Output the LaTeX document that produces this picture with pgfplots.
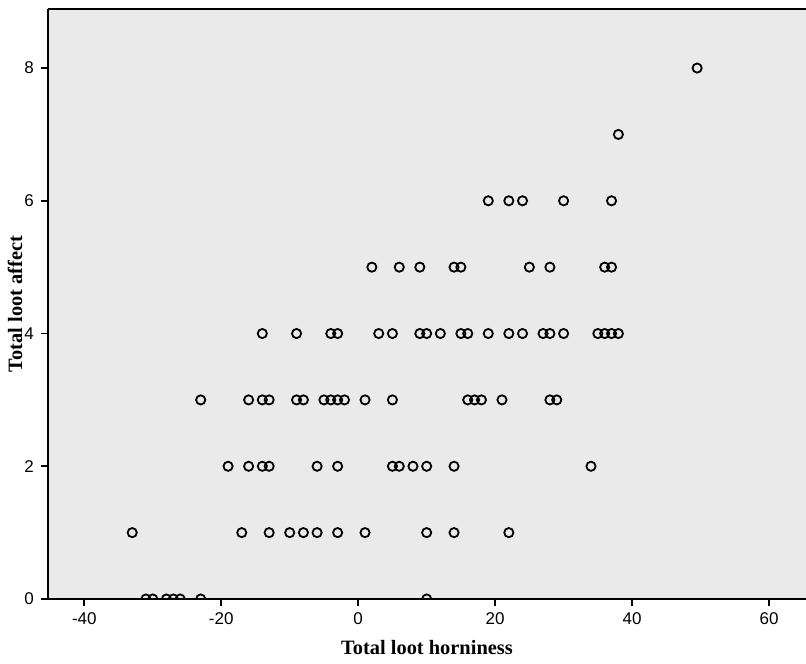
\documentclass[border=0pt]{standalone}
\usepackage{fontspec}
\setmainfont{Liberation Serif}
\newfontfamily\ticksans{Liberation Sans}
\usepackage{pgfplots}
\pgfplotsset{compat=1.18}
\definecolor{plotbg}{RGB}{234,234,234}

\begin{document}
\begin{tikzpicture}
\begin{axis}[
  at={(0,0)}, anchor=south west,
  scale only axis, width=379pt, height=295pt,
  xmin=-45.3, xmax=65.4, ymin=0, ymax=8.89,
  axis x line*=bottom, axis y line*=left,
  axis line style={-, line width=1pt},
  axis background/.style={fill=plotbg},
  xtick={-40,-20,...,60}, ytick={0,2,...,8},
  tick align=outside, major tick length=3.5pt,
  tick style={line width=0.9pt, black},
  tick label style={font=\ticksans\fontsize{8.5}{10}\selectfont},
  /pgf/number format/assume math mode=true,
  xlabel={Total loot horniness}, ylabel={Total loot affect},
  every axis x label/.style={at={(axis description cs:0.5,-0.083)}, anchor=center},
  every axis y label/.style={at={(axis description cs:-0.0435,0.5)}, rotate=90, anchor=center},
  label style={font=\bfseries\fontsize{10.2}{12}\selectfont},
  clip marker paths=true,
]
% one row per respondent: horniness score, affect score
\addplot[only marks, mark=o, mark size=2.3pt, mark options={line width=0.9pt, black}] table {
x y
-31 0
-30 0
-28 0
-27 0
-26 0
-23 0
10 0
-33 1
-17 1
-13 1
-10 1
-8 1
-6 1
-3 1
1 1
10 1
14 1
22 1
-19 2
-16 2
-14 2
-13 2
-6 2
-3 2
5 2
6 2
8 2
10 2
14 2
34 2
-23 3
-16 3
-14 3
-13 3
-9 3
-8 3
-5 3
-4 3
-3 3
-2 3
1 3
5 3
16 3
17 3
18 3
21 3
28 3
29 3
-14 4
-9 4
-4 4
-3 4
3 4
5 4
9 4
10 4
12 4
15 4
16 4
19 4
22 4
24 4
27 4
28 4
30 4
35 4
36 4
37 4
38 4
2 5
6 5
9 5
14 5
15 5
25 5
28 5
36 5
37 5
19 6
22 6
24 6
30 6
37 6
38 7
49.5 8
};
\draw[line width=1pt] (rel axis cs:0,1) -- (rel axis cs:1,1);
\end{axis}
\pgfresetboundingbox
\path[use as bounding box] (-24pt,-32pt) rectangle (379pt,299.5pt);
\end{tikzpicture}
\end{document}
